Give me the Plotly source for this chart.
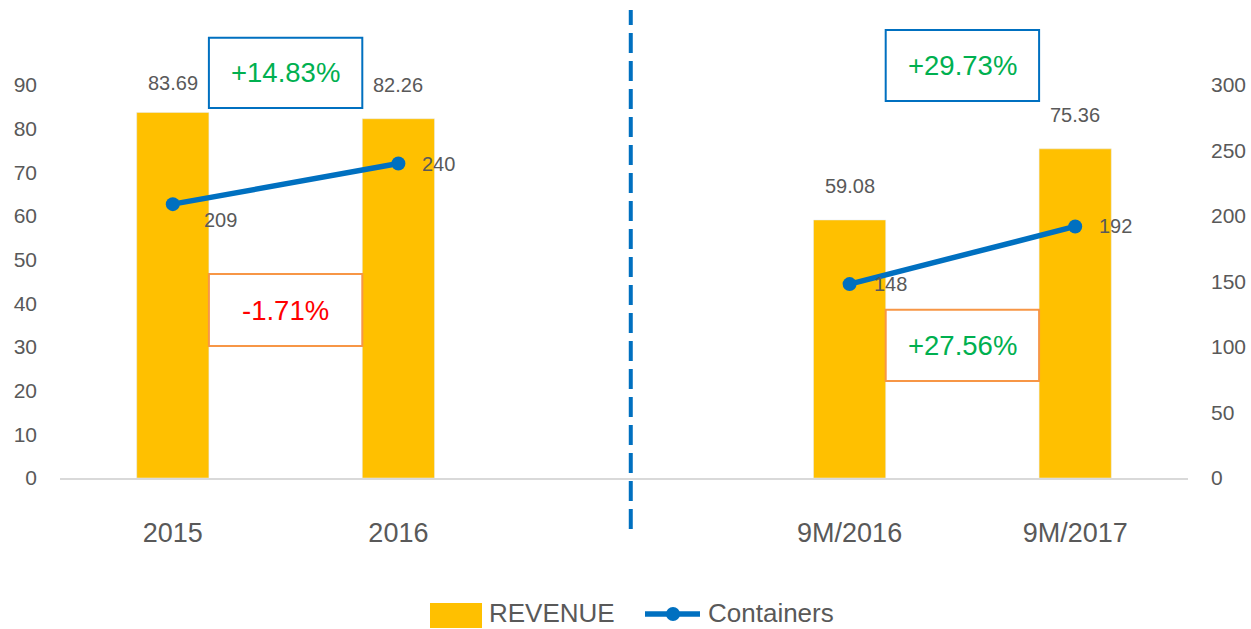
import plotly.graph_objects as go

# ---- data ----
categories = ["2015", "2016", "", "9M/2016", "9M/2017"]
revenue = [83.69, 82.26, None, 59.08, 75.36]
containers = [209, 240, None, 148, 192]
left_ticks = [0, 10, 20, 30, 40, 50, 60, 70, 80, 90]
right_ticks = [0, 50, 100, 150, 200, 250, 300]
changes = ["+14.83%", "-1.71%", "+29.73%", "+27.56%"]
change_colors = ["#00B050", "#FF0000", "#00B050", "#00B050"]

xpos = list(range(len(categories)))
tick_idx = [i for i, c in enumerate(categories) if c]
FONT = "Liberation Sans"
GRAY = "#595959"
BLUE = "#0070C0"
YELLOW = "#FFC000"

W, H = 1251, 629
ML, MR, MT, MB = 60, 63, 5, 151
PW, PH = W - ML - MR, H - MT - MB
Y_MAX = 108.3
Y2_MAX = Y_MAX * 10 / 3


def px(x):  # pixel -> paper x
    return (x - ML) / PW


def py(y):  # pixel -> paper y
    return (H - MB - y) / PH


fig = go.Figure()
fig.add_trace(go.Bar(
    x=xpos, y=revenue, name="REVENUE", marker_color=YELLOW,
    width=0.32, yaxis="y", showlegend=False,
))
fig.add_trace(go.Scatter(
    x=xpos, y=containers, name="Containers", yaxis="y2",
    mode="lines+markers", connectgaps=False, showlegend=False,
    line=dict(color=BLUE, width=5.5), marker=dict(size=14, color=BLUE),
))

# bar value labels
bar_label_shift = [16, 21, None, 21, 21]
for i, v in enumerate(revenue):
    if v is None:
        continue
    fig.add_annotation(x=i, y=v, xref="x", yref="y", text=f"{v:.2f}", showarrow=False,
                       yanchor="bottom", yshift=bar_label_shift[i],
                       font=dict(size=20, color=GRAY, family=FONT))

# container value labels (offsets are style)
label_shift = [(48, -16), (40, 0), None, (41, 0), (40, 0)]
for i, v in enumerate(containers):
    if v is None:
        continue
    dx, dy = label_shift[i]
    fig.add_annotation(x=i, y=v, xref="x", yref="y2", text=str(v), showarrow=False,
                       xshift=dx, yshift=dy, font=dict(size=20, color=GRAY, family=FONT))

# change boxes: (x0, x1, y0, y1, border color)
boxes = [
    (0.16, 0.84, 84.7, 100.8, BLUE),
    (0.16, 0.84, 30.2, 46.7, "#F79646"),
    (3.16, 3.84, 86.3, 102.6, BLUE),
    (3.16, 3.84, 22.2, 38.5, "#F79646"),
]
for (x0, x1, y0, y1, col), txt, tcol in zip(boxes, changes, change_colors):
    fig.add_shape(type="rect", xref="x", yref="y", x0=x0, x1=x1, y0=y0, y1=y1,
                  line=dict(color=col, width=2), fillcolor="white", layer="above")
    fig.add_annotation(x=(x0 + x1) / 2, y=(y0 + y1) / 2, xref="x", yref="y", text=txt,
                       showarrow=False, font=dict(size=27.5, color=tcol, family=FONT))

# dashed separator
fig.add_shape(type="line", xref="x", yref="paper", x0=2.03, x1=2.03, y0=py(529), y1=py(10),
              line=dict(color=BLUE, width=4, dash="20px,8px"), layer="above")

# legend (drawn manually to match the wide swatch)
fig.add_shape(type="rect", xref="paper", yref="paper", x0=px(430), x1=px(482), y0=py(628), y1=py(603),
              line=dict(width=0), fillcolor=YELLOW)
fig.add_annotation(xref="paper", yref="paper", x=px(487), y=py(613), text="REVENUE", showarrow=False,
                   xanchor="left", yanchor="middle", font=dict(size=26, color=GRAY, family=FONT))
fig.add_shape(type="line", xref="paper", yref="paper", x0=px(645), x1=px(700), y0=py(614), y1=py(614),
              line=dict(color=BLUE, width=5.5))
fig.add_shape(type="circle", xref="paper", yref="paper", x0=px(666), x1=px(680), y0=py(621), y1=py(607),
              line=dict(width=0), fillcolor=BLUE)
fig.add_annotation(xref="paper", yref="paper", x=px(706), y=py(613), text="Containers", showarrow=False,
                   xanchor="left", yanchor="middle", font=dict(size=26, color=GRAY, family=FONT))

fig.update_layout(
    width=W, height=H,
    margin=dict(l=ML, r=MR, t=MT, b=MB),
    plot_bgcolor="white", paper_bgcolor="white",
    font=dict(family=FONT, color=GRAY),
    xaxis=dict(range=[-0.5, 4.5], tickvals=tick_idx, ticktext=[categories[i] for i in tick_idx],
               tickfont=dict(size=27, color=GRAY), showline=True, linecolor="#D9D9D9", linewidth=2,
               showgrid=False, zeroline=False, ticks="", ticklabelstandoff=30),
    yaxis=dict(range=[0, Y_MAX], tickvals=left_ticks, showgrid=False, zeroline=False,
               tickfont=dict(size=21, color=GRAY), ticks="", ticklabelstandoff=22),
    yaxis2=dict(range=[0, Y2_MAX], tickvals=right_ticks, overlaying="y", side="right", showgrid=False,
                zeroline=False, tickfont=dict(size=21, color=GRAY), ticks="", ticklabelstandoff=22),
    showlegend=False,
)

fig.write_html("out.html", config={"displayModeBar": False},
               post_script="document.body.style.margin='0';document.body.style.overflow='hidden';")
